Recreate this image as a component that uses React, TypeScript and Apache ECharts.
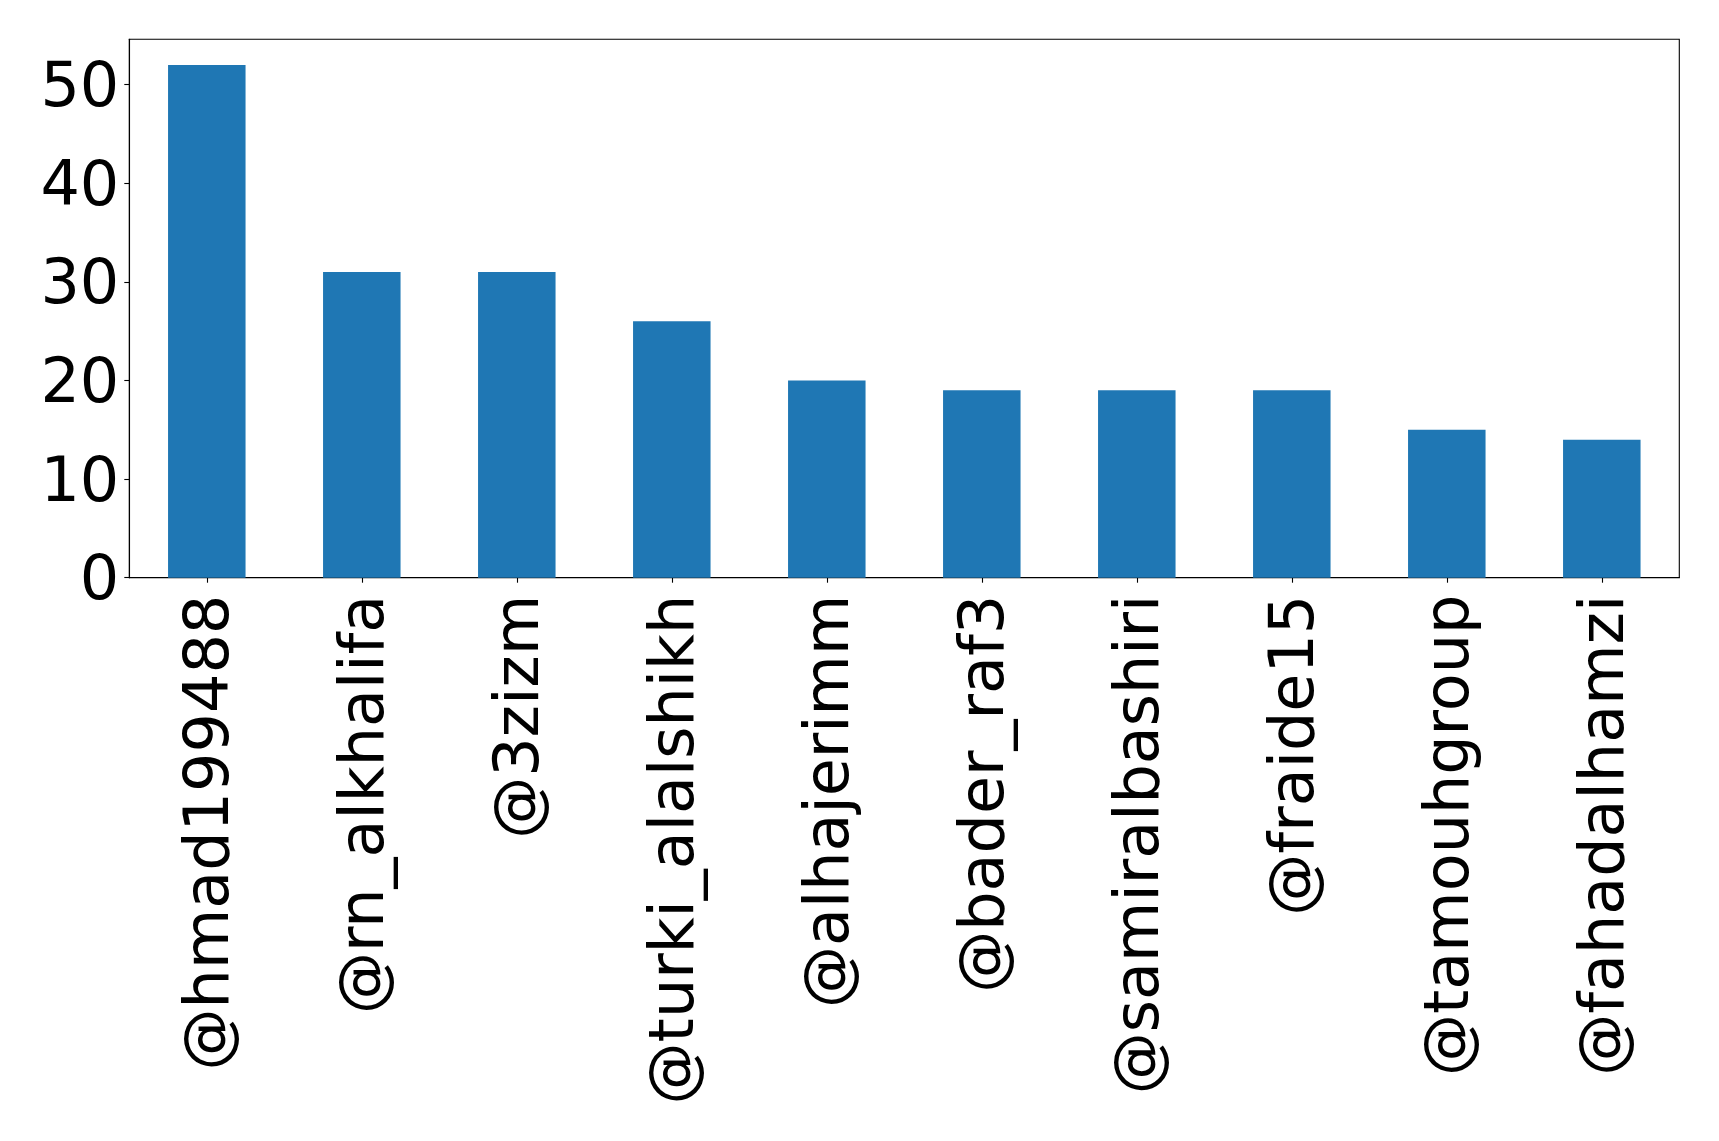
import React, { useEffect, useRef } from "react";
import * as echarts from "echarts";

const categories = [
  "@hmad199488",
  "@rn_alkhalifa",
  "@3zizm",
  "@turki_alalshikh",
  "@alhajerimm",
  "@bader_raf3",
  "@samiralbashiri",
  "@fraide15",
  "@tamouhgroup",
  "@fahadalhamzi",
];
const counts = [52, 31, 31, 26, 20, 19, 19, 19, 15, 14];
const yTicks = [0, 10, 20, 30, 40, 50];
const yMax = 54.6;

export default function App() {
  const ref = useRef<HTMLDivElement>(null);
  useEffect(() => {
    if (!ref.current) return;
    const chart = echarts.init(ref.current, undefined, { renderer: "svg" });
    const font = "DejaVu Sans";
    chart.setOption({
      animation: false,
      backgroundColor: "#ffffff",
      grid: {
        left: 129.3,
        top: 39.3,
        right: 39.7,
        bottom: 563.3,
        show: true,
        borderColor: "#000000",
        borderWidth: 1.1,
        backgroundColor: "transparent",
        containLabel: false,
      },
      xAxis: {
        type: "category",
        data: categories,
        boundaryGap: true,
        axisLine: { show: true, lineStyle: { color: "#000", width: 1.1 } },
        axisTick: {
          show: true,
          alignWithLabel: true,
          length: 5,
          lineStyle: { color: "#000", width: 1.1 },
        },
        axisLabel: {
          rotate: 90,
          interval: 0,
          margin: 17,
          fontSize: 62,
          fontFamily: font,
          color: "#000",
        },
        splitLine: { show: false },
      },
      yAxis: {
        type: "value",
        min: 0,
        max: yMax,
        interval: 10,
        axisLine: { show: true, lineStyle: { color: "#000", width: 1.1 } },
        axisTick: {
          show: true,
          length: 5,
          customValues: yTicks,
          lineStyle: { color: "#000", width: 1.1 },
        },
        axisLabel: {
          customValues: yTicks,
          margin: 10,
          fontSize: 62,
          fontFamily: font,
          color: "#000",
        },
        splitLine: { show: false },
      },
      series: [
        {
          type: "bar",
          data: counts,
          barWidth: "50%",
          itemStyle: { color: "#1f77b4" },
        },
      ],
    });
    return () => chart.dispose();
  }, []);
  return (
    <div
      ref={ref}
      style={{ position: "fixed", left: 0, top: 0, width: 1719, height: 1141 }}
    />
  );
}
